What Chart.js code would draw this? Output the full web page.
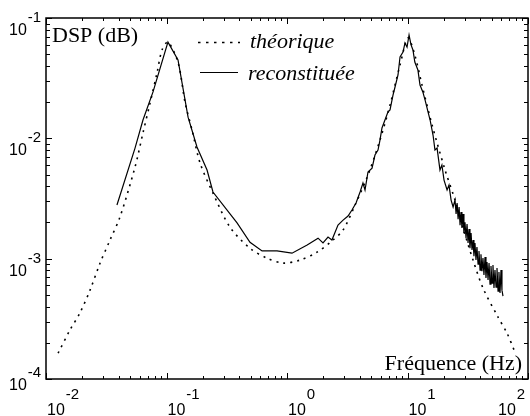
<!DOCTYPE html>
<html lang="fr">
<head>
    <meta charset="UTF-8">
    <title>DSP théorique / reconstituée</title>
    <script src="https://cdn.jsdelivr.net/npm/chart.js"></script>
    <style>
body {
    margin: 0;
    background: #fff;
}
.wrap {
    width: 530px;
    height: 416px;
}
    </style>
</head>
<body>
    <div class="wrap"><canvas id="dsp" width="530" height="416"></canvas></div>
    <script>
        // courbe théorique (pointillés)
        const freqTheo = [0.0126, 0.0158, 0.0191, 0.0232, 0.0281, 0.034, 0.0411, 0.0548, 0.0638, 0.073, 0.0834, 0.0918,
            0.103, 0.125, 0.143, 0.163, 0.19, 0.243, 0.336, 0.493, 0.682, 0.927, 1.28, 1.77, 2.41, 2.92, 3.67, 4.70,
            5.91, 7.16, 8.67, 10.1, 11.5, 13.2, 16.0, 20.5, 24.8, 28.9, 35.0, 42.3, 56.4, 66.9, 78.0];
        const dspTheo = [1.64e-4, 2.55e-4, 3.53e-4, 5.48e-4, 9.19e-4, 1.43e-3, 2.22e-3, 5.77e-3, 0.0111, 0.0196, 0.0349, 0.0542,
            0.063, 0.0423, 0.0196, 0.0117, 6.23e-3, 3.51e-3, 1.83e-3, 1.22e-3, 1.01e-3, 9.19e-4, 9.73e-4, 1.13e-3, 1.43e-3, 1.73e-3, 2.79e-3, 4.95e-3,
            9.68e-3, 0.0189, 0.0407, 0.0682, 0.0492, 0.0277, 0.0129, 5.45e-3, 3.07e-3, 1.80e-3, 9.73e-4, 5.70e-4, 3.27e-4, 2.41e-4, 1.67e-4];

        // courbe reconstituée (trait plein)
        const freqRec = [0.0388, 0.0548, 0.0638, 0.0773, 0.1028, 0.1246, 0.151, 0.179, 0.217, 0.243, 0.385, 0.493, 0.621, 0.826,
            1.10, 1.47, 1.81, 1.99, 2.19, 2.36, 2.65, 2.92, 3.21, 3.46, 3.74, 4.04, 4.27, 4.44, 4.70, 5.08, 5.37, 5.69,
            5.91, 6.14, 6.50, 6.89, 7.16, 7.58, 7.88, 8.34, 8.67, 9.18, 9.53, 9.91, 10.3, 10.7, 11.1, 11.5, 12.2, 12.7,
            13.4, 14.0, 14.8, 15.4, 16.3, 16.9, 17.6, 18.6, 19.3, 20.1, 21.3, 22.1, 23.0, 23.9,
            24.8, 25.3, 25.8, 26.3, 26.8, 27.3, 27.8, 28.3, 28.9, 29.4, 30.0, 30.6, 31.2, 31.8, 32.4, 33.0, 33.7,
            34.3, 35.0, 35.6, 36.3, 37.0, 37.7, 38.5, 39.2, 40.0, 40.7, 41.5, 42.3, 43.1, 44.0, 44.8, 45.7, 46.6,
            47.5, 48.4, 49.3, 50.3, 51.2, 52.2, 53.2, 54.3, 55.3, 56.4, 57.4, 58.6, 59.7, 60.8, 62.0];
        const dspRec = [2.79e-3, 8.30e-3, 0.0142, 0.0243, 0.063, 0.0448, 0.0150, 8.47e-3, 5.45e-3, 3.58e-3, 1.98e-3, 1.37e-3, 1.16e-3, 1.16e-3,
            1.11e-3, 1.30e-3, 1.48e-3, 1.35e-3, 1.51e-3, 1.43e-3, 1.90e-3, 2.09e-3, 2.26e-3, 2.54e-3, 2.90e-3, 3.58e-3, 4.25e-3, 3.72e-3, 5.25e-3, 5.66e-3, 7.26e-3, 8.0e-3,
            9.68e-3, 0.0122, 0.0142, 0.0166, 0.0172, 0.0229, 0.0267, 0.0336, 0.0474, 0.0521, 0.0620, 0.0574, 0.0722, 0.0597, 0.0542, 0.0431, 0.0370, 0.0277,
            0.0243, 0.0208, 0.0166, 0.0142, 0.0106, 8.0e-3, 8.3e-3, 5.45e-3, 6.0e-3, 4.5e-3, 3.72e-3, 4.09e-3, 3.07e-3, 2.69e-3,
            3.07e-3, 2.35e-3, 2.90e-3, 2.13e-3, 2.68e-3, 1.90e-3, 2.44e-3, 1.80e-3, 2.35e-3, 1.63e-3, 2.01e-3, 1.48e-3, 1.94e-3, 1.35e-3, 1.76e-3, 1.22e-3, 1.63e-3,
            1.18e-3, 1.43e-3, 1.05e-3, 1.35e-3, 9.74e-4, 1.25e-3, 9.02e-4, 1.16e-3, 8.04e-4, 1.09e-3, 7.88e-4, 1.01e-3, 7.31e-4, 1.03e-3, 6.90e-4, 9.37e-4, 6.64e-4,
            9.19e-4, 6.15e-4, 8.68e-4, 6.27e-4, 8.85e-4, 5.70e-4, 8.04e-4, 5.81e-4, 8.35e-4, 5.38e-4, 7.74e-4, 5.18e-4, 8.04e-4, 5.48e-4, 4.89e-4];

        // exposants des graduations
        const xTickExp = [-2, -1, 0, 1, 2];
        const yTickExp = [-4, -3, -2, -1];

        const seriesLabels = ['théorique', 'reconstituée'];

        const toPoints = (xs, ys) => xs.map((v, i) => ({ x: v, y: ys[i] }));

        // cadre, graduations internes, étiquettes 10^n et textes
        const framePlugin = {
            id: 'frame',
            afterDraw(chart) {
                const { ctx, chartArea: a, scales: { x, y } } = chart;
                ctx.save();
                ctx.strokeStyle = '#000';
                ctx.fillStyle = '#000';

                // graduations x (bas et haut)
                ctx.lineWidth = 1;
                ctx.beginPath();
                xTickExp.forEach((e, i) => {
                    const last = i === xTickExp.length - 1;
                    for (let m = 1; m < (last ? 2 : 10); m++) {
                        const px = Math.round(x.getPixelForValue(m * Math.pow(10, e))) + 0.5;
                        const len = m === 1 ? 6 : 3;
                        ctx.moveTo(px, a.bottom); ctx.lineTo(px, a.bottom - len);
                        ctx.moveTo(px, a.top); ctx.lineTo(px, a.top + len);
                    }
                });
                // graduations y (gauche et droite)
                yTickExp.forEach((e, i) => {
                    const last = i === yTickExp.length - 1;
                    for (let m = 1; m < (last ? 2 : 10); m++) {
                        const py = Math.round(y.getPixelForValue(m * Math.pow(10, e))) + 0.5;
                        const len = m === 1 ? 6 : 4;
                        ctx.moveTo(a.left, py); ctx.lineTo(a.left + len, py);
                        ctx.moveTo(a.right, py); ctx.lineTo(a.right - len, py);
                    }
                });
                ctx.stroke();

                ctx.lineWidth = 1.5;
                ctx.strokeRect(a.left, a.top, a.right - a.left, a.bottom - a.top);

                // étiquettes axe x
                ctx.textAlign = 'left';
                ctx.textBaseline = 'alphabetic';
                xTickExp.forEach((e, i) => {
                    let px = x.getPixelForValue(Math.pow(10, e)) + 1;
                    if (i === xTickExp.length - 1) px = 498;
                    ctx.font = '16px "Liberation Sans", Arial, sans-serif';
                    ctx.fillText('10', px, 415);
                    const w = ctx.measureText('10').width;
                    ctx.font = '15px "Liberation Sans", Arial, sans-serif';
                    ctx.fillText(String(e), px + w + 1, 399);
                });

                // étiquettes axe y
                yTickExp.forEach((e, i) => {
                    const py = y.getPixelForValue(Math.pow(10, e));
                    const shift = i === 0 ? -6 : 0;
                    ctx.font = '16px "Liberation Sans", Arial, sans-serif';
                    ctx.fillText('10', 9, py + 17 + shift);
                    const w = ctx.measureText('10').width;
                    ctx.font = '15px "Liberation Sans", Arial, sans-serif';
                    ctx.fillText(String(e), 9 + w + 1, py + 4 + shift);
                });

                // titres d'axes
                ctx.font = '22px "Liberation Serif", "Times New Roman", serif';
                ctx.fillText('DSP (dB)', 52, 42);
                ctx.textAlign = 'right';
                ctx.fillText('Fréquence (Hz)', 522, 370);

                // légende
                ctx.textAlign = 'left';
                ctx.lineWidth = 1.5;
                ctx.setLineDash([2.5, 5.5]);
                ctx.beginPath(); ctx.moveTo(198, 42.5); ctx.lineTo(240, 42.5); ctx.stroke();
                ctx.setLineDash([]);
                ctx.lineWidth = 1.2;
                ctx.beginPath(); ctx.moveTo(200, 72.5); ctx.lineTo(238, 72.5); ctx.stroke();
                ctx.font = 'italic 22px "Liberation Serif", "Times New Roman", serif';
                ctx.fillText(seriesLabels[0], 250, 48);
                ctx.fillText(seriesLabels[1], 248, 80);
                ctx.restore();
            }
        };

        const config = {
            type: 'line',
            data: {
                datasets: [{
                    label: seriesLabels[0],
                    data: toPoints(freqTheo, dspTheo),
                    borderColor: '#000',
                    borderWidth: 1.6,
                    borderDash: [2, 5],
                    pointRadius: 0,
                    tension: 0.3,
                    fill: false
                }, {
                    label: seriesLabels[1],
                    data: toPoints(freqRec, dspRec),
                    borderColor: '#000',
                    borderWidth: 1.2,
                    pointRadius: 0,
                    tension: 0,
                    fill: false
                }]
            },
            options: {
                responsive: false,
                animation: false,
                layout: {
                    padding: { left: 46, right: 2, top: 18, bottom: 37 }
                },
                plugins: {
                    legend: { display: false },
                    tooltip: { enabled: false }
                },
                scales: {
                    x: {
                        type: 'logarithmic',
                        display: false,
                        min: 0.01,
                        max: 100
                    },
                    y: {
                        type: 'logarithmic',
                        display: false,
                        min: 1e-4,
                        max: 0.1
                    }
                }
            },
            plugins: [framePlugin]
        };

        const dspChart = new Chart(document.getElementById('dsp'), config);
    </script>
</body>
</html>
